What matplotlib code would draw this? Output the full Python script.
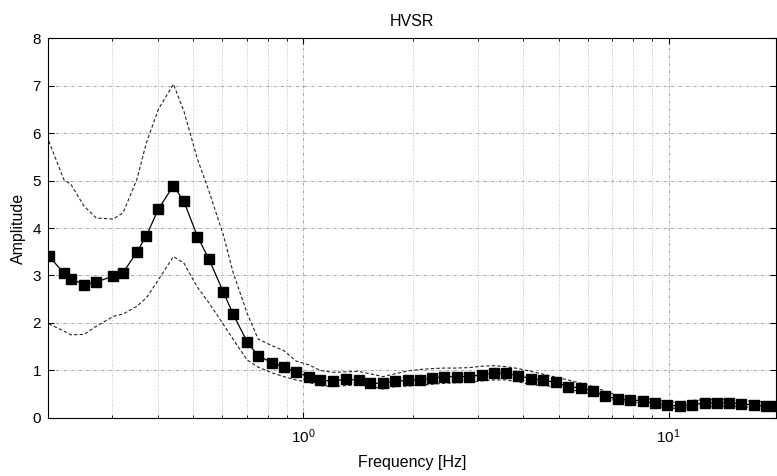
import matplotlib

matplotlib.use("Agg")
import matplotlib.pyplot as plt
from matplotlib.ticker import LogLocator, NullFormatter

plt.rcParams["font.family"] = ["Liberation Sans", "DejaVu Sans"]

# frekvenciák (Hz) és az átlagos H/V görbe
freq = [0.201, 0.221, 0.231, 0.251, 0.271, 0.302, 0.321, 0.350, 0.372, 0.401,
        0.441, 0.471, 0.513, 0.552, 0.604, 0.643, 0.702, 0.752, 0.821, 0.884,
        0.954, 1.034, 1.113, 1.202, 1.308, 1.416, 1.524, 1.651, 1.784, 1.928,
        2.080, 2.256, 2.433, 2.630, 2.847, 3.078, 3.325, 3.586, 3.876, 4.198,
        4.535, 4.902, 5.307, 5.748, 6.212, 6.714, 7.269, 7.859, 8.492, 9.158,
        9.918, 10.72, 11.58, 12.54, 13.55, 14.62, 15.80, 17.10, 18.49, 19.69]
hv_mean = [3.41, 3.05, 2.93, 2.81, 2.86, 2.99, 3.06, 3.49, 3.84, 4.40,
           4.89, 4.56, 3.82, 3.34, 2.65, 2.18, 1.60, 1.31, 1.16, 1.08,
           0.96, 0.87, 0.79, 0.78, 0.81, 0.80, 0.73, 0.73, 0.77, 0.79,
           0.80, 0.84, 0.87, 0.87, 0.87, 0.91, 0.94, 0.94, 0.89, 0.83,
           0.79, 0.75, 0.66, 0.63, 0.57, 0.46, 0.40, 0.38, 0.36, 0.31,
           0.27, 0.25, 0.28, 0.31, 0.32, 0.32, 0.30, 0.27, 0.25, 0.25]
hv_upper = [5.83, 5.02, 4.92, 4.46, 4.21, 4.19, 4.32, 5.02, 5.80, 6.50,
            7.03, 6.46, 5.45, 4.77, 3.85, 3.05, 2.20, 1.66, 1.52, 1.42,
            1.20, 1.12, 1.00, 0.96, 0.97, 0.98, 0.93, 0.87, 0.93, 0.99,
            1.02, 1.04, 1.05, 1.05, 1.06, 1.09, 1.10, 1.08, 1.04, 0.98,
            0.92, 0.86, 0.80, 0.73, 0.66, 0.56, 0.47, 0.44, 0.42, 0.38,
            0.34, 0.33, 0.37, 0.38, 0.39, 0.39, 0.37, 0.35, 0.34, 0.34]
hv_lower = [1.98, 1.83, 1.75, 1.76, 1.93, 2.14, 2.19, 2.35, 2.53, 2.91,
            3.40, 3.26, 2.75, 2.42, 1.97, 1.65, 1.22, 1.07, 0.95, 0.87,
            0.80, 0.75, 0.68, 0.66, 0.68, 0.70, 0.67, 0.61, 0.66, 0.67,
            0.69, 0.71, 0.73, 0.74, 0.75, 0.78, 0.80, 0.80, 0.76, 0.70,
            0.68, 0.66, 0.60, 0.56, 0.50, 0.43, 0.37, 0.34, 0.31, 0.26,
            0.21, 0.20, 0.22, 0.24, 0.25, 0.25, 0.24, 0.22, 0.21, 0.20]

fig = plt.figure(figsize=(7.77, 4.76), dpi=100)
ax = fig.add_axes([0.0618, 0.122, 0.9372, 0.798])

ax.plot(freq, hv_upper, color="#222222", lw=0.8, ls=(0, (3, 2)))
ax.plot(freq, hv_lower, color="#222222", lw=0.8, ls=(0, (3, 2)))
ax.plot(freq, hv_mean, color="black", lw=0.9, marker="s", ms=7,
        mfc="black", mec="black")

ax.set_xscale("log")
ax.set_xlim(0.2, 19.7)
ax.set_ylim(0, 8)
ax.set_yticks(range(0, 9))
ax.xaxis.set_minor_locator(LogLocator(base=10, subs=range(2, 10)))
ax.xaxis.set_minor_formatter(NullFormatter())

# MATLAB-szerű rács: fő és mellék vonalak pontozva
ax.grid(True, which="major", color="#9a9a9a", ls=(0, (4, 2, 1, 2)), lw=0.6)
ax.grid(True, which="minor", axis="x", color="#b0b0b0", ls=(0, (1, 2)), lw=0.6)
ax.set_axisbelow(True)

ax.tick_params(which="both", direction="in", top=True, right=True,
               labelsize=11)
ax.tick_params(axis="x", pad=7)
ax.tick_params(axis="y", pad=5)
ax.tick_params(which="major", length=4)
ax.tick_params(which="minor", length=2.5)

ax.set_title("HVSR", fontsize=11.5, pad=8.5)
ax.set_xlabel("Frequency [Hz]", fontsize=11.5, labelpad=6)
ax.set_ylabel("Amplitude", fontsize=11.5, labelpad=5)

fig.savefig("out.png", dpi=100)
